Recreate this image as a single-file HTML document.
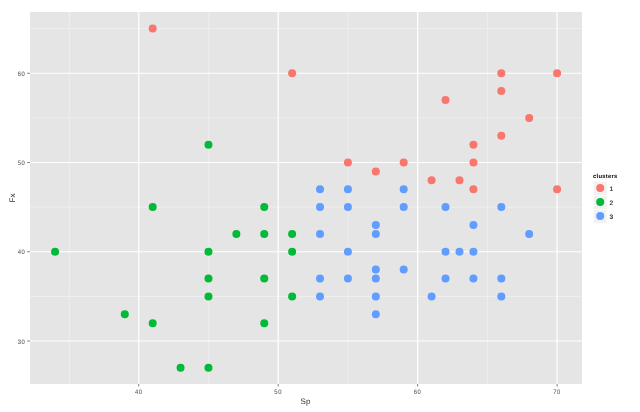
<!DOCTYPE html>
<html><head><meta charset="utf-8"><title>clusters</title>
<style>
html,body{margin:0;padding:0;background:#fff;}
body{width:640px;height:412px;overflow:hidden;}
svg{display:block;will-change:transform;text-rendering:geometricPrecision;font-family:"Liberation Sans", sans-serif;}
</style></head>
<body>
<svg width="640" height="412" viewBox="0 0 640 412">
<rect width="640" height="412" fill="#fff"/>
<rect x="30" y="12" width="552" height="372" fill="#E5E5E5"/>
<path d="M69.31 12V384M208.77 12V384M348.21 12V384M487.67 12V384M30 296.38H582M30 207.12H582M30 117.88H582M30 28.62H582" stroke="#F2F2F2" stroke-width="0.75" fill="none"/>
<path d="M138.74 12V384M278.19 12V384M417.64 12V384M557.09 12V384M30 341H582M30 251.75H582M30 162.5H582M30 73.25H582" stroke="#FFFFFF" stroke-width="1.2" fill="none"/>
<g fill="#F8766D"><circle cx="152.69" cy="28.62" r="4.0"/><circle cx="292.13" cy="73.25" r="4.0"/><circle cx="501.31" cy="73.25" r="4.0"/><circle cx="557.09" cy="73.25" r="4.0"/><circle cx="501.31" cy="91.1" r="4.0"/><circle cx="445.53" cy="100.02" r="4.0"/><circle cx="529.2" cy="117.88" r="4.0"/><circle cx="501.31" cy="135.72" r="4.0"/><circle cx="473.42" cy="144.65" r="4.0"/><circle cx="347.91" cy="162.5" r="4.0"/><circle cx="403.69" cy="162.5" r="4.0"/><circle cx="473.42" cy="162.5" r="4.0"/><circle cx="375.81" cy="171.43" r="4.0"/><circle cx="431.59" cy="180.35" r="4.0"/><circle cx="459.48" cy="180.35" r="4.0"/><circle cx="473.42" cy="189.28" r="4.0"/><circle cx="557.09" cy="189.28" r="4.0"/></g>
<g fill="#00BA38"><circle cx="208.47" cy="144.65" r="4.0"/><circle cx="152.69" cy="207.12" r="4.0"/><circle cx="264.25" cy="207.12" r="4.0"/><circle cx="236.35" cy="233.9" r="4.0"/><circle cx="264.25" cy="233.9" r="4.0"/><circle cx="292.13" cy="233.9" r="4.0"/><circle cx="55.07" cy="251.75" r="4.0"/><circle cx="208.47" cy="251.75" r="4.0"/><circle cx="292.13" cy="251.75" r="4.0"/><circle cx="208.47" cy="278.52" r="4.0"/><circle cx="264.25" cy="278.52" r="4.0"/><circle cx="208.47" cy="296.38" r="4.0"/><circle cx="292.13" cy="296.38" r="4.0"/><circle cx="124.79" cy="314.23" r="4.0"/><circle cx="152.69" cy="323.15" r="4.0"/><circle cx="264.25" cy="323.15" r="4.0"/><circle cx="180.57" cy="367.77" r="4.0"/><circle cx="208.47" cy="367.77" r="4.0"/></g>
<g fill="#619CFF"><circle cx="320.02" cy="189.28" r="4.0"/><circle cx="347.91" cy="189.28" r="4.0"/><circle cx="403.69" cy="189.28" r="4.0"/><circle cx="320.02" cy="207.12" r="4.0"/><circle cx="347.91" cy="207.12" r="4.0"/><circle cx="403.69" cy="207.12" r="4.0"/><circle cx="445.53" cy="207.12" r="4.0"/><circle cx="501.31" cy="207.12" r="4.0"/><circle cx="375.81" cy="224.97" r="4.0"/><circle cx="473.42" cy="224.97" r="4.0"/><circle cx="320.02" cy="233.9" r="4.0"/><circle cx="375.81" cy="233.9" r="4.0"/><circle cx="529.2" cy="233.9" r="4.0"/><circle cx="347.91" cy="251.75" r="4.0"/><circle cx="445.53" cy="251.75" r="4.0"/><circle cx="459.48" cy="251.75" r="4.0"/><circle cx="473.42" cy="251.75" r="4.0"/><circle cx="375.81" cy="269.6" r="4.0"/><circle cx="403.69" cy="269.6" r="4.0"/><circle cx="320.02" cy="278.52" r="4.0"/><circle cx="347.91" cy="278.52" r="4.0"/><circle cx="375.81" cy="278.52" r="4.0"/><circle cx="445.53" cy="278.52" r="4.0"/><circle cx="473.42" cy="278.52" r="4.0"/><circle cx="501.31" cy="278.52" r="4.0"/><circle cx="320.02" cy="296.38" r="4.0"/><circle cx="375.81" cy="296.38" r="4.0"/><circle cx="431.59" cy="296.38" r="4.0"/><circle cx="501.31" cy="296.38" r="4.0"/><circle cx="375.81" cy="314.23" r="4.0"/></g>
<path d="M138.74 384V386.5M278.19 384V386.5M417.64 384V386.5M557.09 384V386.5M30 341H27.2M30 251.75H27.2M30 162.5H27.2M30 73.25H27.2" stroke="#7F7F7F" stroke-width="1" fill="none"/>
<g font-size="6.5" fill="#5E5E5E" stroke="#5E5E5E" stroke-width="0.08"><text transform="translate(136.54 393.5) scale(0.9 1)" text-anchor="middle">4</text><text transform="translate(140.34 393.5) scale(0.9 1)" text-anchor="middle">0</text><text transform="translate(275.99 393.5) scale(0.9 1)" text-anchor="middle">5</text><text transform="translate(279.79 393.5) scale(0.9 1)" text-anchor="middle">0</text><text transform="translate(415.44 393.5) scale(0.9 1)" text-anchor="middle">6</text><text transform="translate(419.24 393.5) scale(0.9 1)" text-anchor="middle">0</text><text transform="translate(554.89 393.5) scale(0.9 1)" text-anchor="middle">7</text><text transform="translate(558.69 393.5) scale(0.9 1)" text-anchor="middle">0</text><text transform="translate(19.4 343.7) scale(0.9 1)" text-anchor="middle">3</text><text transform="translate(23.2 343.7) scale(0.9 1)" text-anchor="middle">0</text><text transform="translate(19.4 254.45) scale(0.9 1)" text-anchor="middle">4</text><text transform="translate(23.2 254.45) scale(0.9 1)" text-anchor="middle">0</text><text transform="translate(19.4 165.2) scale(0.9 1)" text-anchor="middle">5</text><text transform="translate(23.2 165.2) scale(0.9 1)" text-anchor="middle">0</text><text transform="translate(19.4 75.95) scale(0.9 1)" text-anchor="middle">6</text><text transform="translate(23.2 75.95) scale(0.9 1)" text-anchor="middle">0</text></g>
<text x="305.5" y="403.7" text-anchor="middle" font-size="8" fill="#333">Sp</text>
<text transform="translate(15.2 198.0) rotate(-90)" text-anchor="middle" font-size="8" fill="#333">Fx</text>
<text x="593" y="177.5" font-size="5.9" font-weight="bold" letter-spacing="0.25" fill="#000">clusters</text><rect x="593.5" y="181.5" width="13.5" height="14" fill="#F2F2F2" stroke="#FFFFFF" stroke-width="0.6"/><circle cx="600.2" cy="188.05" r="4.0" fill="#F8766D"/><text x="609.5" y="190.6" font-size="6.5" fill="#111" stroke="#111" stroke-width="0.12">1</text><rect x="593.5" y="195.5" width="13.5" height="14" fill="#F2F2F2" stroke="#FFFFFF" stroke-width="0.6"/><circle cx="600.2" cy="202.05" r="4.0" fill="#00BA38"/><text x="609.5" y="204.6" font-size="6.5" fill="#111" stroke="#111" stroke-width="0.12">2</text><rect x="593.5" y="209.5" width="13.5" height="14" fill="#F2F2F2" stroke="#FFFFFF" stroke-width="0.6"/><circle cx="600.2" cy="216.05" r="4.0" fill="#619CFF"/><text x="609.5" y="218.6" font-size="6.5" fill="#111" stroke="#111" stroke-width="0.12">3</text>
</svg>
</body></html>
